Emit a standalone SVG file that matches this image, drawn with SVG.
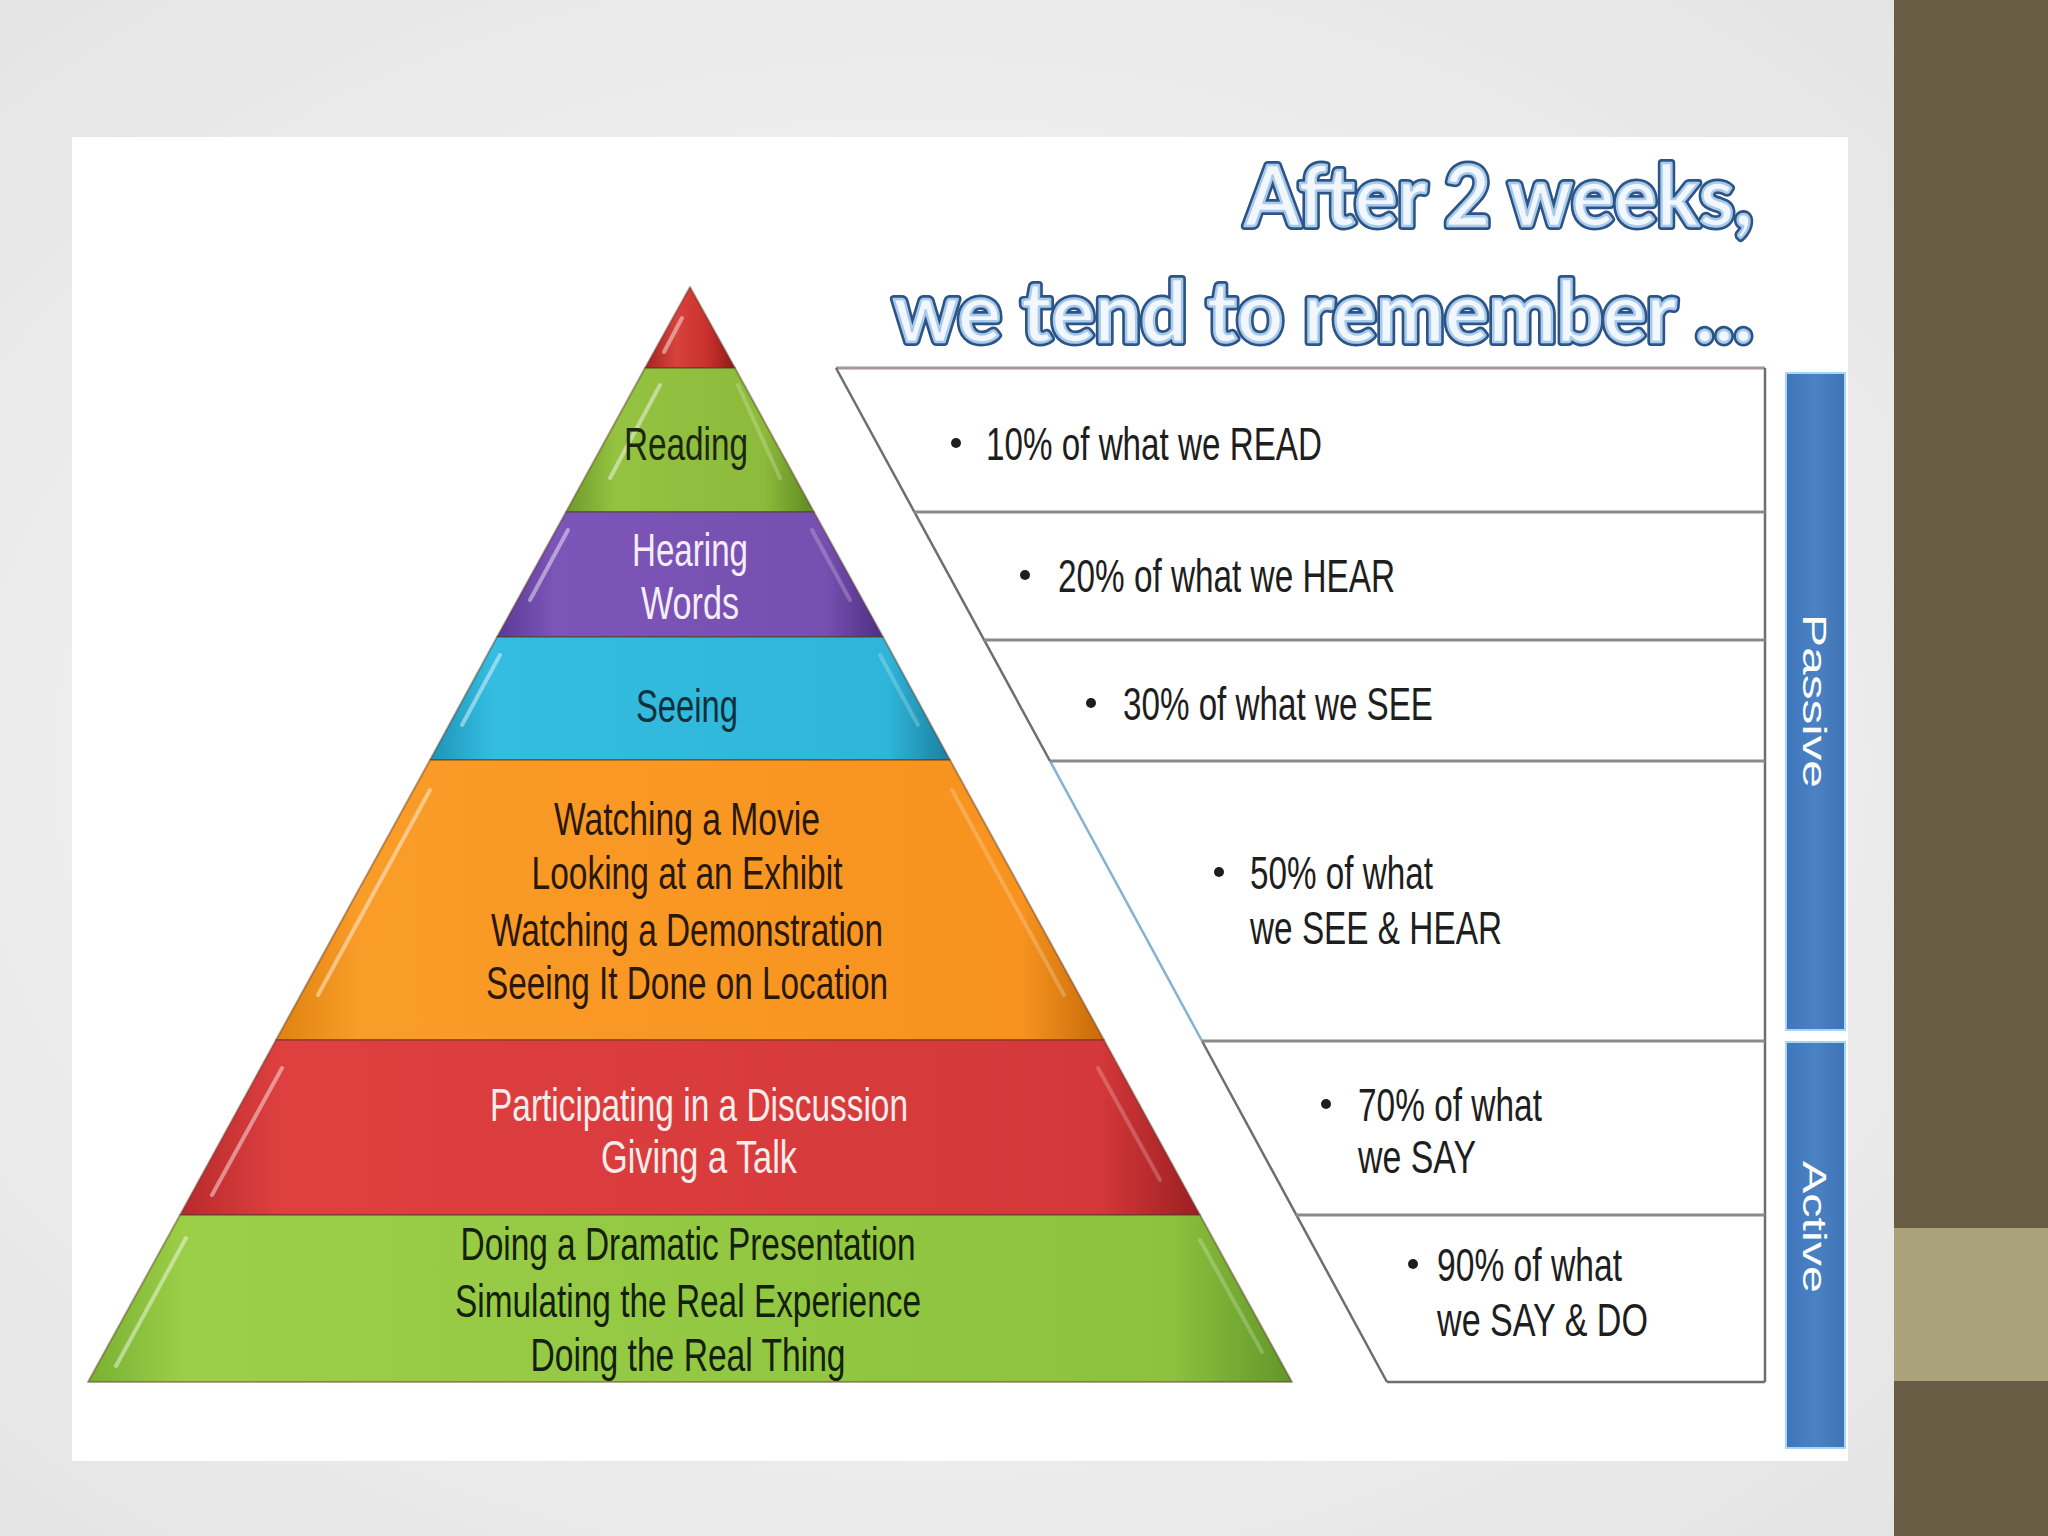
<svg xmlns="http://www.w3.org/2000/svg" width="2048" height="1536" viewBox="0 0 2048 1536">
<defs>
<radialGradient id="bg" cx="0.45" cy="0.5" r="0.75">
<stop offset="0" stop-color="#fafafa"/>
<stop offset="1" stop-color="#e2e2e2"/>
</radialGradient>
<linearGradient id="gTip" x1="0" y1="0" x2="1" y2="0"><stop offset="0" stop-color="#a82220"/><stop offset="0.35" stop-color="#d8423c"/><stop offset="0.7" stop-color="#c8302c"/><stop offset="1" stop-color="#8e1a18"/></linearGradient>
<linearGradient id="gGreen1" x1="0" y1="0" x2="1" y2="0"><stop offset="0" stop-color="#6f9a2a"/><stop offset="0.2" stop-color="#94c342"/><stop offset="0.8" stop-color="#8cba3a"/><stop offset="1" stop-color="#5e8a22"/></linearGradient>
<linearGradient id="gPurple" x1="0" y1="0" x2="1" y2="0"><stop offset="0" stop-color="#5c3a95"/><stop offset="0.15" stop-color="#7c55b8"/><stop offset="0.85" stop-color="#7650b0"/><stop offset="1" stop-color="#4e2f84"/></linearGradient>
<linearGradient id="gCyan" x1="0" y1="0" x2="1" y2="0"><stop offset="0" stop-color="#1f93b8"/><stop offset="0.12" stop-color="#34bde0"/><stop offset="0.88" stop-color="#2fb5d9"/><stop offset="1" stop-color="#1a7fa0"/></linearGradient>
<linearGradient id="gOrange" x1="0" y1="0" x2="1" y2="0"><stop offset="0" stop-color="#e0820f"/><stop offset="0.1" stop-color="#fa9c28"/><stop offset="0.9" stop-color="#f7931e"/><stop offset="1" stop-color="#c76b0a"/></linearGradient>
<linearGradient id="gRed" x1="0" y1="0" x2="1" y2="0"><stop offset="0" stop-color="#b82a2c"/><stop offset="0.1" stop-color="#de4040"/><stop offset="0.9" stop-color="#d5383a"/><stop offset="1" stop-color="#9c1f22"/></linearGradient>
<linearGradient id="gGreen2" x1="0" y1="0" x2="1" y2="0"><stop offset="0" stop-color="#78b032"/><stop offset="0.08" stop-color="#9ccf48"/><stop offset="0.9" stop-color="#8cc23e"/><stop offset="1" stop-color="#62962a"/></linearGradient>
<linearGradient id="gBlue" x1="0" y1="0" x2="1" y2="0"><stop offset="0" stop-color="#3f76bb"/><stop offset="0.5" stop-color="#4a82c4"/><stop offset="1" stop-color="#3e74b5"/></linearGradient>
</defs>
<style>
.band{stroke:#5a3a28;stroke-opacity:0.45;stroke-width:2;stroke-linejoin:round}
.hl{stroke:#ffffff;stroke-opacity:0.45;stroke-width:4;stroke-linecap:round;fill:none}
.hr{stroke:#ffffff;stroke-opacity:0.22;stroke-width:4;stroke-linecap:round;fill:none}
.pt{font-family:"Liberation Sans Narrow","Liberation Sans",Arial,sans-serif;font-size:46px;text-anchor:middle}
.rt{font-family:"Liberation Sans Narrow","Liberation Sans",Arial,sans-serif;font-size:46px;fill:#1e1e1e}
.bul{fill:#1e1e1e}
.sep{stroke:#8a8a8a;stroke-width:3;fill:none}
.edge{stroke:#6e6e6e;stroke-width:2.5;fill:none}
.title{font-family:Lato,"Open Sans","Liberation Sans",sans-serif;font-weight:700;text-anchor:end}
.tOut{fill:none;stroke:#2d5487;stroke-width:8;stroke-linejoin:round}
.tIn{fill:#f2f7fd;stroke:#a9cbeb;stroke-width:2.5;stroke-linejoin:round}
.vt{font-family:"Liberation Sans",Arial,sans-serif;font-size:34px;fill:#ffffff;text-anchor:middle}
.bar{fill:url(#gBlue);stroke:#a6d6f6;stroke-width:2}
</style>

<!-- background -->
<rect x="0" y="0" width="2048" height="1536" fill="url(#bg)"/>
<rect x="72" y="137" width="1776" height="1324" fill="#ffffff"/>
<rect x="1894" y="0" width="154" height="1536" fill="#685c44"/>
<rect x="1894" y="1228" width="154" height="153" fill="#a9a27b"/>

<!-- title -->
<g id="title">
<text class="title tOut" x="1753" y="226" font-size="84" textLength="508" lengthAdjust="spacingAndGlyphs">After 2 weeks,</text>
<text class="title tIn" x="1753" y="226" font-size="84" textLength="508" lengthAdjust="spacingAndGlyphs">After 2 weeks,</text>
<text class="title tOut" x="1753" y="342" font-size="84" textLength="860" lengthAdjust="spacingAndGlyphs">we tend to remember ...</text>
<text class="title tIn" x="1753" y="342" font-size="84" textLength="860" lengthAdjust="spacingAndGlyphs">we tend to remember ...</text>
</g>

<!-- pyramid -->
<g id="tip">
<polygon class="band" points="690,287 735,368 645,368" fill="url(#gTip)"/>
<line class="hl" x1="682" y1="318" x2="664" y2="352"/>
</g>
<g id="reading">
<polygon class="band" points="645,368 735,368 814,512 566,512" fill="url(#gGreen1)"/>
<line class="hl" x1="660" y1="385" x2="610" y2="478"/>
<line class="hr" x1="738" y1="385" x2="780" y2="478"/>
<text class="pt" x="686" y="460" fill="#1b2810" textLength="124" lengthAdjust="spacingAndGlyphs">Reading</text>
</g>
<g id="hearing">
<polygon class="band" points="566,512 814,512 883,637 497,637" fill="url(#gPurple)"/>
<line class="hl" x1="568" y1="530" x2="530" y2="600"/>
<line class="hr" x1="812" y1="530" x2="850" y2="600"/>
<text class="pt" x="690" y="566" fill="#f4eefb" textLength="116" lengthAdjust="spacingAndGlyphs">Hearing</text>
<text class="pt" x="690" y="619" fill="#f4eefb" textLength="98" lengthAdjust="spacingAndGlyphs">Words</text>
</g>
<g id="seeing">
<polygon class="band" points="497,637 883,637 950,760 430,760" fill="url(#gCyan)"/>
<line class="hl" x1="500" y1="655" x2="462" y2="725"/>
<line class="hr" x1="880" y1="655" x2="918" y2="725"/>
<text class="pt" x="687" y="722" fill="#10303e" textLength="102" lengthAdjust="spacingAndGlyphs">Seeing</text>
</g>
<g id="watching">
<polygon class="band" points="430,760 950,760 1104,1040 276,1040" fill="url(#gOrange)"/>
<line class="hl" x1="430" y1="790" x2="318" y2="995"/>
<line class="hr" x1="952" y1="790" x2="1064" y2="995"/>
<text class="pt" x="687" y="835" fill="#2a1806" textLength="266" lengthAdjust="spacingAndGlyphs">Watching a Movie</text>
<text class="pt" x="687" y="889" fill="#2a1806" textLength="311" lengthAdjust="spacingAndGlyphs">Looking at an Exhibit</text>
<text class="pt" x="687" y="946" fill="#2a1806" textLength="392" lengthAdjust="spacingAndGlyphs">Watching a Demonstration</text>
<text class="pt" x="687" y="999" fill="#2a1806" textLength="402" lengthAdjust="spacingAndGlyphs">Seeing It Done on Location</text>
</g>
<g id="participating">
<polygon class="band" points="276,1040 1104,1040 1200,1215 180,1215" fill="url(#gRed)"/>
<line class="hl" x1="282" y1="1068" x2="212" y2="1195" stroke="#ff9a90"/>
<line class="hr" x1="1098" y1="1068" x2="1160" y2="1180"/>
<text class="pt" x="699" y="1121" fill="#fbecec" textLength="418" lengthAdjust="spacingAndGlyphs">Participating in a Discussion</text>
<text class="pt" x="699" y="1173" fill="#fbecec" textLength="196" lengthAdjust="spacingAndGlyphs">Giving a Talk</text>
</g>
<g id="doing">
<polygon class="band" points="180,1215 1200,1215 1292,1382 88,1382" fill="url(#gGreen2)"/>
<line class="hl" x1="186" y1="1238" x2="116" y2="1366" stroke="#e8ff9a" stroke-opacity="0.7"/>
<line class="hr" x1="1200" y1="1240" x2="1262" y2="1352"/>
<text class="pt" x="688" y="1260" fill="#13200a" textLength="455" lengthAdjust="spacingAndGlyphs">Doing a Dramatic Presentation</text>
<text class="pt" x="688" y="1317" fill="#13200a" textLength="466" lengthAdjust="spacingAndGlyphs">Simulating the Real Experience</text>
<text class="pt" x="688" y="1371" fill="#13200a" textLength="315" lengthAdjust="spacingAndGlyphs">Doing the Real Thing</text>
</g>

<!-- table rows -->
<g id="rows">
<polygon points="836,368 1765,368 1765,1382 1387,1382" fill="#ffffff"/>
<line x1="836" y1="368" x2="1765" y2="368" stroke="#a89494" stroke-width="3"/>
<line class="edge" x1="836" y1="368" x2="1050" y2="761"/>
<line x1="1050" y1="761" x2="1202" y2="1041" stroke="#86b2d2" stroke-width="2.5"/>
<line class="edge" x1="1202" y1="1041" x2="1387" y2="1382"/>
<line class="edge" x1="1387" y1="1382" x2="1765" y2="1382"/>
<line class="edge" x1="1765" y1="368" x2="1765" y2="1382"/>
<line class="sep" x1="914" y1="512" x2="1765" y2="512"/>
<line class="sep" x1="984" y1="640" x2="1765" y2="640"/>
<line class="sep" x1="1050" y1="761" x2="1765" y2="761"/>
<line class="sep" x1="1202" y1="1041" x2="1765" y2="1041"/>
<line class="sep" x1="1296" y1="1215" x2="1765" y2="1215"/>
</g>

<g id="row10">
<circle class="bul" cx="956" cy="443" r="5"/>
<text class="rt" x="986" y="460" textLength="336" lengthAdjust="spacingAndGlyphs">10% of what we READ</text>
</g>
<g id="row20">
<circle class="bul" cx="1025" cy="575" r="5"/>
<text class="rt" x="1058" y="592" textLength="337" lengthAdjust="spacingAndGlyphs">20% of what we HEAR</text>
</g>
<g id="row30">
<circle class="bul" cx="1091" cy="703" r="5"/>
<text class="rt" x="1123" y="720" textLength="310" lengthAdjust="spacingAndGlyphs">30% of what we SEE</text>
</g>
<g id="row50">
<circle class="bul" cx="1219" cy="872" r="5"/>
<text class="rt" x="1250" y="889" textLength="183" lengthAdjust="spacingAndGlyphs">50% of what</text>
<text class="rt" x="1250" y="944" textLength="252" lengthAdjust="spacingAndGlyphs">we SEE &amp; HEAR</text>
</g>
<g id="row70">
<circle class="bul" cx="1326" cy="1104" r="5"/>
<text class="rt" x="1358" y="1121" textLength="184" lengthAdjust="spacingAndGlyphs">70% of what</text>
<text class="rt" x="1358" y="1173" textLength="118" lengthAdjust="spacingAndGlyphs">we SAY</text>
</g>
<g id="row90">
<circle class="bul" cx="1413" cy="1264" r="5"/>
<text class="rt" x="1437" y="1281" textLength="185" lengthAdjust="spacingAndGlyphs">90% of what</text>
<text class="rt" x="1437" y="1336" textLength="211" lengthAdjust="spacingAndGlyphs">we SAY &amp; DO</text>
</g>

<!-- side bars -->
<g id="passive">
<rect class="bar" x="1786" y="373" width="59" height="657"/>
<text class="vt" transform="translate(1815,701) rotate(90)" y="12" textLength="174" lengthAdjust="spacingAndGlyphs">Passive</text>
</g>
<g id="active">
<rect class="bar" x="1786" y="1042" width="59" height="406"/>
<text class="vt" transform="translate(1815,1227) rotate(90)" y="12" textLength="132" lengthAdjust="spacingAndGlyphs">Active</text>
</g>
</svg>
